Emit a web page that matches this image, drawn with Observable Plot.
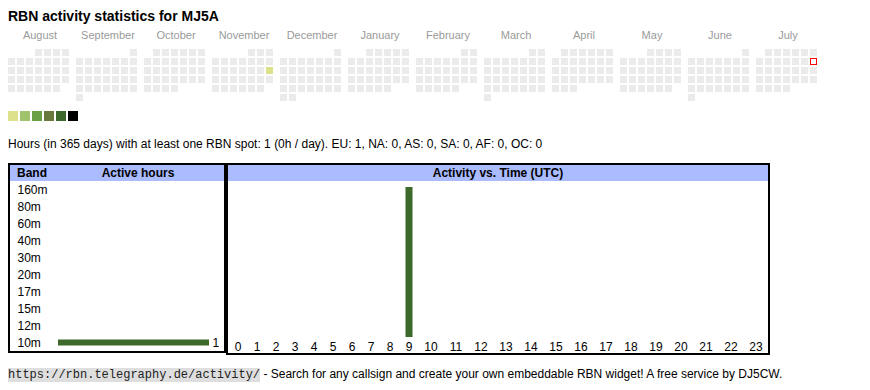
<!DOCTYPE html>
<html>
<head>
<meta charset="utf-8">
<script src="https://cdn.jsdelivr.net/npm/d3@7"></script>
<script src="https://cdn.jsdelivr.net/npm/@observablehq/plot@0.6"></script>
<style>
html, body { margin: 0; padding: 0; background: #fff; }
body { font-family: "Liberation Sans", Arial, sans-serif; color: #000; }
#root { position: relative; width: 870px; height: 390px; overflow: hidden; }
.abs { position: absolute; }
#title { left: 8px; top: 8px; font-size: 14px; font-weight: bold; line-height: 16px; white-space: nowrap; }
#desc { left: 8px; top: 137px; font-size: 12px; line-height: 14px; white-space: nowrap; }
#leftbox { left: 8px; top: 163px; width: 218px; height: 190px; border: 2px solid #000; box-sizing: border-box; }
#rightbox { left: 226px; top: 163px; width: 544px; height: 192px; border: 2px solid #000; box-sizing: border-box; }
.hdr { position: absolute; left: 0; top: 0; right: 0; height: 16px; background: #aabbff; font-weight: bold; font-size: 12px; line-height: 16px; white-space: nowrap; }
.hdr span { position: absolute; top: 0; }
#footer { left: 8px; top: 367px; font-size: 12px; line-height: 14px; white-space: nowrap; }
#footer .url { font-family: "Liberation Mono", "Courier New", monospace; background: #dedede; color: #222; }
#cal, #legend, #bands, #hours { position: absolute; }
#cal { left: 0; top: 0; }
#legend { left: 0; top: 111px; }
#bands { left: 10px; top: 180px; }
#hours { left: 228px; top: 181px; }
</style>
</head>
<body>
<div id="root">
  <div id="title" class="abs">RBN activity statistics for MJ5A</div>
  <div id="cal"></div>
  <div id="legend"></div>
  <div id="desc" class="abs">Hours (in 365 days) with at least one RBN spot: 1 (0h / day). EU: 1, NA: 0, AS: 0, SA: 0, AF: 0, OC: 0</div>
  <div id="leftbox" class="abs"><div class="hdr"><span style="left:7px">Band</span><span style="left:42px;right:0;text-align:center">Active hours</span></div></div>
  <div id="rightbox" class="abs"><div class="hdr" style="text-align:center">Activity vs. Time (UTC)</div></div>
  <div id="bands"></div>
  <div id="hours"></div>
  <div id="footer" class="abs"><span class="url">https://rbn.telegraphy.de/activity/</span> - Search for any callsign and create your own embeddable RBN widget! A free service by DJ5CW.</div>
</div>
<script>
// ---------- data ----------
const monthNames = ["August","September","October","November","December","January","February","March","April","May","June","July"];
const startYear = 2024;
const startMonthIndex = 7; // August
const activeDays = ["2024-11-17"];
const activeLevels = [1];
const todayDate = "2025-07-13";
const levels = [0, 1, 2, 3, 4, 5, 6];
const levelColors = ["#ebebeb", "#dbe28b", "#9fc26a", "#6aa046", "#68793b", "#3d6a2b", "#000000"];

const bands = ["160m","80m","60m","40m","30m","20m","17m","15m","12m","10m"];
const bandHours = [0, 0, 0, 0, 0, 0, 0, 0, 0, 1];

const hourLabels = ["0","1","2","3","4","5","6","7","8","9","10","11","12","13","14","15","16","17","18","19","20","21","22","23"];
const hourCounts = [0, 0, 0, 0, 0, 0, 0, 0, 0, 1, 0, 0, 0, 0, 0, 0, 0, 0, 0, 0, 0, 0, 0, 0];

const barColor = "#3d6a2b";
const font = "'Liberation Sans', Arial, sans-serif";

// ---------- calendar ----------
const days = [];
monthNames.forEach((name, i) => {
  const start = new Date(Date.UTC(startYear, startMonthIndex + i, 1));
  const end = new Date(Date.UTC(startYear, startMonthIndex + i + 1, 1));
  const offset = (start.getUTCDay() + 6) % 7;
  for (let d = new Date(start); d < end; d.setUTCDate(d.getUTCDate() + 1)) {
    const iso = d.toISOString().slice(0, 10);
    const k = activeDays.indexOf(iso);
    days.push({
      month: name,
      col: (d.getUTCDay() + 6) % 7,
      row: Math.floor((d.getUTCDate() - 1 + offset) / 7),
      level: k >= 0 ? activeLevels[k] : 0,
      date: iso
    });
  }
});

document.getElementById("cal").append(Plot.plot({
  width: 870, height: 103,
  marginTop: 49, marginBottom: 0, marginLeft: 8, marginRight: 51,
  style: {fontFamily: font, fontSize: "11px", color: "#9a9a9a", background: "transparent"},
  fx: {domain: monthNames, paddingInner: 5 / 68, paddingOuter: 0, axis: "top", tickSize: 0, tickPadding: 11, label: null},
  x: {domain: d3.range(7), padding: 0, axis: null},
  y: {domain: d3.range(6), padding: 0, axis: null},
  color: {type: "ordinal", domain: levels, range: levelColors},
  marks: [
    Plot.cell(days, {fx: "month", x: "col", y: "row", fill: "level", insetRight: 2, insetBottom: 2}),
    Plot.cell(days.filter(d => d.date === todayDate), {fx: "month", x: "col", y: "row", fill: "white", stroke: "#ff0000", strokeWidth: 1, insetLeft: 0.5, insetTop: 0.5, insetRight: 2.5, insetBottom: 2.5})
  ]
}));

// ---------- level legend ----------
document.getElementById("legend").append(Plot.plot({
  width: 80, height: 10,
  marginTop: 0, marginBottom: 0, marginLeft: 8, marginRight: 0,
  style: {background: "transparent"},
  x: {domain: levels.slice(1), padding: 0, axis: null},
  color: {type: "ordinal", domain: levels, range: levelColors},
  marks: [
    Plot.cell(levels.slice(1), {x: d => d, fill: d => d, insetRight: 2})
  ]
}));

// ---------- band table ----------
const bandRows = bands.map((b, i) => ({band: b, hours: bandHours[i]}));
document.getElementById("bands").append(Plot.plot({
  width: 214, height: 171,
  marginTop: 0.5, marginBottom: 0.5, marginLeft: 48, marginRight: 15,
  style: {fontFamily: font, fontSize: "12px", color: "#000", background: "transparent"},
  x: {domain: [0, d3.max(bandHours)], axis: null},
  y: {domain: bands, padding: 0, axis: null},
  marks: [
    Plot.barX(bandRows, {y: "band", x: "hours", fill: barColor, insetTop: 5.5, insetBottom: 5.5}),
    Plot.text(bandRows, {y: "band", text: "band", frameAnchor: "left", textAnchor: "start", dx: -41, fill: "#000"}),
    Plot.text(bandRows.filter(d => d.hours > 0), {y: "band", x: "hours", text: d => String(d.hours), textAnchor: "start", dx: 3, fill: "#000"})
  ]
}));

// ---------- hour chart (column widths follow label widths, like the table) ----------
const colUnits = hourLabels.map(l => 13 + 6 * l.length);
let acc = 0;
const hourRows = hourLabels.map((l, i) => {
  const r = {label: l, count: hourCounts[i], center: acc + colUnits[i] / 2};
  acc += colUnits[i];
  return r;
});
document.getElementById("hours").append(Plot.plot({
  width: 540, height: 172,
  marginTop: 6, marginBottom: 16, marginLeft: 0, marginRight: 0,
  style: {fontFamily: font, fontSize: "12px", color: "#000", background: "transparent"},
  x: {domain: [0, acc], axis: null},
  y: {domain: [0, d3.max(hourCounts)], axis: null},
  marks: [
    Plot.ruleX(hourRows, {x: "center", y1: 0, y2: "count", stroke: barColor, strokeWidth: 7}),
    Plot.text(hourRows, {x: "center", text: "label", frameAnchor: "bottom", lineAnchor: "top", dy: 4.5, fill: "#000"})
  ]
}));
</script>
</body>
</html>
